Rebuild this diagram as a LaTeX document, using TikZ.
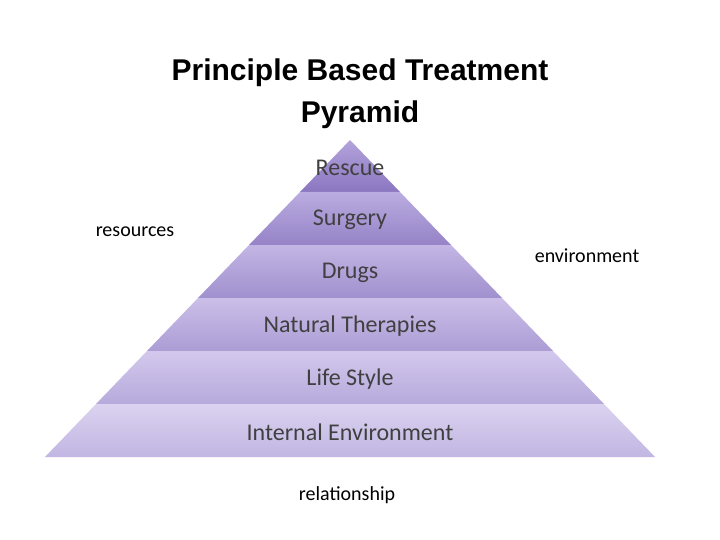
\documentclass[tikz,border=0pt]{standalone}
\usepackage{fontspec}
\setmainfont{Carlito}
\newfontfamily\titlefont{Liberation Sans}
\begin{document}
\begin{tikzpicture}[x=1pt,y=-1pt,
  lbl/.style={font=\fontsize{24}{28}\selectfont, text=black!75},
  side/.style={font=\fontsize{20}{24}\selectfont, text=black}]
\useasboundingbox (0,0) rectangle (720,540);
\fill[white] (0,0) rectangle (720,540);
\node[font=\titlefont\bfseries\fontsize{30}{42}\selectfont, align=center] (title) at (360,94) {Principle Based Treatment\\Pyramid};
\foreach \ya/\yb/\wa/\wb/\ctop/\cbot in {
  140/192/0/50/B3A3DB/8A76C0,
  192/245/50/101/BBACE0/9583C7,
  245/298/101/152/C3B5E4/A090CE,
  298/351/152/203/CBBEE8/AB9DD5,
  351/404/203/254/D3C8EC/B6AADC,
  404/457/254/305/DBD2F0/C1B6E2}{
  \definecolor{ctopc}{HTML}{\ctop}\definecolor{cbotc}{HTML}{\cbot}
  \shade[top color=ctopc, bottom color=cbotc] (350-\wa,\ya) -- (350+\wa,\ya) -- (350+\wb,\yb) -- (350-\wb,\yb) -- cycle;
}
\node[lbl] (l1) at (350,168) {Rescue};
\node[lbl] (l2) at (350,220) {Surgery};
\node[lbl] (l3) at (350,273) {Drugs};
\node[lbl] (l4) at (350,326) {Natural Therapies};
\node[lbl] (l5) at (350,379) {Life Style};
\node[lbl] (l6) at (350,432) {Internal Environment};
\node[side] (res) at (135,232) {resources};
\node[side] (env) at (587,256) {environment};
\node[side] (rel) at (347,495) {relationship};
\end{tikzpicture}
\end{document}
